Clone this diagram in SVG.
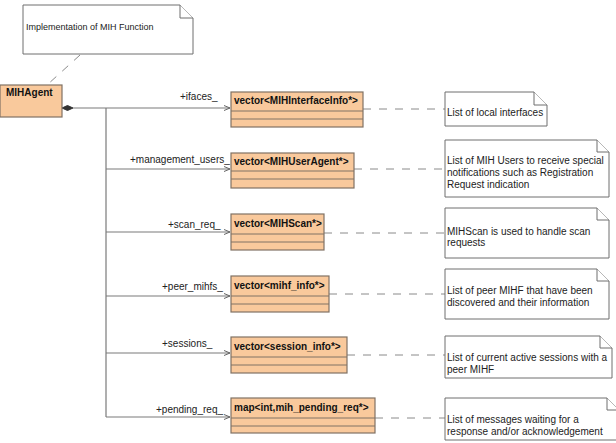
<svg xmlns="http://www.w3.org/2000/svg" width="616" height="443" viewBox="0 0 616 443">
<style>
text{font-family:"Liberation Sans",Arial,sans-serif;font-size:10px;fill:#222}
.b{font-weight:bold;fill:#111}
.cls{fill:#F9C99C;stroke:#807264;stroke-width:1.2}
.sep{stroke:#807264;stroke-width:1}
.note{fill:#fff;stroke:#6e6e6e;stroke-width:1}
.ln{stroke:#7a7a7a;stroke-width:1.2;fill:none}
.dash{stroke:#8a8a8a;stroke-width:1;stroke-dasharray:8 8;fill:none}
</style>
<defs>
<marker id="arr" markerWidth="8" markerHeight="8" refX="7" refY="4" orient="auto" markerUnits="userSpaceOnUse">
<path d="M1,1.5 L7,4 L1,6.5" fill="none" stroke="#666" stroke-width="1"/>
</marker>
</defs>
<g id="connectors">
<path class="dash" d="M80,55 L47,85"/>
<path class="ln" d="M73,108 H230" marker-end="url(#arr)"/>
<path class="ln" d="M106,108 V417"/>
<path class="ln" d="M106,169 H230" marker-end="url(#arr)"/>
<path class="ln" d="M106,232 H230" marker-end="url(#arr)"/>
<path class="ln" d="M106,296 H230" marker-end="url(#arr)"/>
<path class="ln" d="M106,353 H230" marker-end="url(#arr)"/>
<path class="ln" d="M106,417 H230" marker-end="url(#arr)"/>
<path d="M62,108 L67.5,105.5 L73,108 L67.5,110.5 Z" fill="#333" stroke="#333" stroke-width="1"/>
<text x="180" y="100">+ifaces_</text>
<text x="130" y="163">+management_users_</text>
<text x="168" y="228">+scan_req_</text>
<text x="162" y="290">+peer_mihfs_</text>
<text x="162" y="347">+sessions_</text>
<text x="156" y="413">+pending_req_</text>
<path class="dash" d="M363,109 H445"/>
<path class="dash" d="M354,169 H445"/>
<path class="dash" d="M324,233 H445"/>
<path class="dash" d="M329,294 H445"/>
<path class="dash" d="M347,355 H445"/>
<path class="dash" d="M375,418 H445"/>
</g>
<g id="note-top">
<path class="note" d="M23,5 H180 L193,18 V54 H23 Z"/>
<path class="note" d="M180,5 V18 H193" fill="none"/>
<text x="26" y="30" style="font-size:9px">Implementation of MIH Function</text>
</g>
<g id="MIHAgent">
<rect class="cls" x="0" y="85" width="62" height="32"/>
<text class="b" x="6" y="96">MIHAgent</text>
</g>
<g id="c1">
<rect class="cls" x="231" y="92" width="132" height="35"/>
<path class="sep" d="M231,111 H363 M231,119 H363"/>
<text class="b" x="234" y="104">vector&lt;MIHInterfaceInfo*&gt;</text>
</g>
<g id="c2">
<rect class="cls" x="231" y="153" width="123" height="35"/>
<path class="sep" d="M231,171 H354 M231,179 H354"/>
<text class="b" x="234" y="165">vector&lt;MIHUserAgent*&gt;</text>
</g>
<g id="c3">
<rect class="cls" x="231" y="214" width="93" height="36"/>
<path class="sep" d="M231,234 H324 M231,242 H324"/>
<text class="b" x="234" y="227">vector&lt;MIHScan*&gt;</text>
</g>
<g id="c4">
<rect class="cls" x="231" y="276" width="98" height="36"/>
<path class="sep" d="M231,296 H329 M231,304 H329"/>
<text class="b" x="234" y="289">vector&lt;mihf_info*&gt;</text>
</g>
<g id="c5">
<rect class="cls" x="231" y="337" width="116" height="36"/>
<path class="sep" d="M231,357 H347 M231,365 H347"/>
<text class="b" x="234" y="350">vector&lt;session_info*&gt;</text>
</g>
<g id="c6">
<rect class="cls" x="231" y="398" width="144" height="35"/>
<path class="sep" d="M231,418 H375 M231,426 H375"/>
<text class="b" x="234" y="411">map&lt;int,mih_pending_req*&gt;</text>
</g>
<g id="n1">
<path class="note" d="M445,92 H534 L547,105 V126 H445 Z"/>
<path class="note" d="M534,92 V105 H547" fill="none"/>
<text x="447" y="116">List of local interfaces</text>
</g>
<g id="n2">
<path class="note" d="M445,140 H597 L609,152 V197 H445 Z"/>
<path class="note" d="M597,140 V152 H609" fill="none"/>
<text x="447" y="164">List of MIH Users to receive special</text>
<text x="447" y="176">notifications such as Registration</text>
<text x="447" y="188">Request indication</text>
</g>
<g id="n3">
<path class="note" d="M445,208 H597 L609,220 V258 H445 Z"/>
<path class="note" d="M597,208 V220 H609" fill="none"/>
<text x="447" y="235">MIHScan is used to handle scan</text>
<text x="447" y="246">requests</text>
</g>
<g id="n4">
<path class="note" d="M445,269 H597 L609,281 V319 H445 Z"/>
<path class="note" d="M597,269 V281 H609" fill="none"/>
<text x="447" y="294">List of peer MIHF that have been</text>
<text x="447" y="306">discovered and their information</text>
</g>
<g id="n5">
<path class="note" d="M445,336 H600 L612,348 V378 H445 Z"/>
<path class="note" d="M600,336 V348 H612" fill="none"/>
<text x="447" y="361">List of current active sessions with a</text>
<text x="447" y="373">peer MIHF</text>
</g>
<g id="n6">
<path class="note" d="M445,398 H607 L619,410 V440 H445 Z"/>
<path class="note" d="M607,398 V410 H619" fill="none"/>
<text x="447" y="423">List of messages waiting for a</text>
<text x="447" y="435">response and/or acknowledgement</text>
</g>
</svg>
